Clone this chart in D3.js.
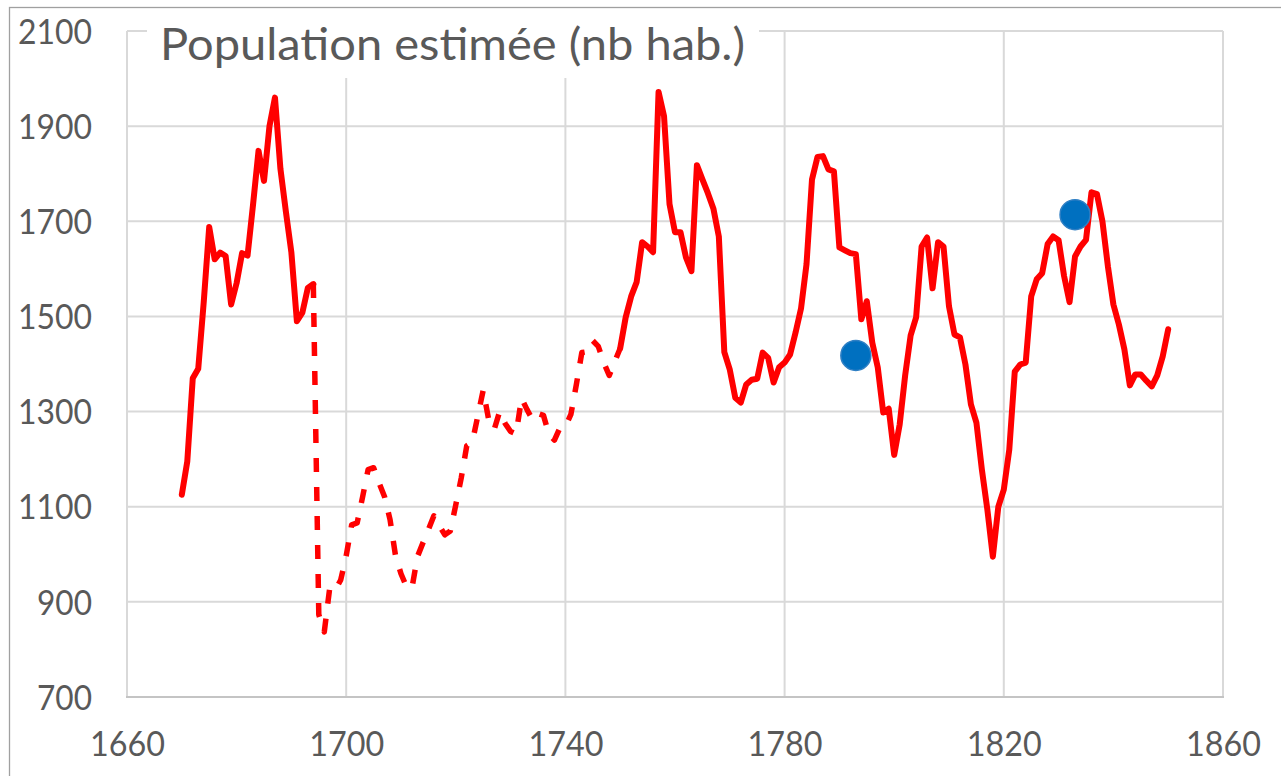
<!DOCTYPE html>
<html>
<head>
<meta charset="utf-8">
<script src="https://cdn.jsdelivr.net/npm/d3@7"></script>
<style>
  html, body { margin: 0; padding: 0; background: #fff; }
  svg { display: block; }
</style>
</head>
<body>
<svg id="chart" width="1281" height="776"></svg>
<script>
// ---- data ----
const title = "Population estimée (nb hab.)";
const firstYear = 1670;
const dashedStart = 1694;
const dashedEnd = 1750;
const population = [
  1125, 1195, 1370, 1390, 1530, 1688, 1620, 1634, 1627, 1525, // 1670-1679
  1570, 1633, 1628, 1735, 1848, 1785, 1900, 1960, 1810, 1720, // 1680-1689
  1634, 1490, 1508, 1560, 1568, 873, 837, 930, 925, 946,       // 1690-1699
  997, 1062, 1066, 1121, 1178, 1182, 1150, 1121, 1073, 997,    // 1700-1709
  959, 932, 929, 995, 1024, 1052, 1081, 1060, 1041, 1049,      // 1710-1719
  1104, 1161, 1228, 1235, 1290, 1345, 1283, 1262, 1300, 1275,  // 1720-1729
  1258, 1253, 1328, 1304, 1283, 1296, 1292, 1252, 1240, 1266,  // 1730-1739
  1268, 1294, 1357, 1424, 1426, 1449, 1437, 1403, 1376, 1405,  // 1740-1749
  1433, 1498, 1542, 1572, 1656, 1647, 1635, 1972, 1921, 1736,  // 1750-1759
  1677, 1677, 1624, 1595, 1818, 1788, 1759, 1727, 1668, 1425,  // 1760-1769
  1388, 1329, 1319, 1357, 1367, 1369, 1424, 1413, 1361, 1393,  // 1770-1779
  1403, 1420, 1466, 1517, 1610, 1788, 1835, 1837, 1809, 1805,  // 1780-1789
  1645, 1639, 1633, 1631, 1494, 1532, 1445, 1393, 1298, 1306,  // 1790-1799
  1209, 1273, 1376, 1460, 1498, 1647, 1666, 1559, 1656, 1647,  // 1800-1809
  1521, 1462, 1456, 1399, 1315, 1277, 1178, 1094, 995, 1100,   // 1810-1819
  1136, 1220, 1384, 1399, 1403, 1542, 1578, 1591, 1652, 1668,  // 1820-1829
  1660, 1585, 1530, 1626, 1647, 1661, 1761, 1757, 1700, 1605,  // 1830-1839
  1525, 1483, 1431, 1355, 1378, 1378, 1365, 1353, 1376, 1416,  // 1840-1849
  1473                                                         // 1850
];
const dotYears = [1793, 1833];
const dotValues = [1418, 1714];
const xTicks = [1660, 1700, 1740, 1780, 1820, 1860];
const yTicks = [700, 900, 1100, 1300, 1500, 1700, 1900, 2100];

// ---- chart ----
const svg = d3.select("#chart");
const x = d3.scaleLinear().domain([1660, 1860]).range([127, 1223]);
const y = d3.scaleLinear().domain([700, 2100]).range([697, 31]);

const points = population.map((v, i) => ({ year: firstYear + i, value: v }));
const seg1 = points.filter(d => d.year <= dashedStart);
const seg2 = points.filter(d => d.year >= dashedStart && d.year <= dashedEnd);
const seg3 = points.filter(d => d.year >= dashedEnd);

svg.append("rect").attr("width", 1281).attr("height", 776).attr("fill", "#fff");
// outer chart border
svg.append("rect").attr("x", 9.5).attr("y", 7.5).attr("width", 1400).attr("height", 1000)
  .attr("fill", "none").attr("stroke", "#a0a0a0").attr("stroke-width", 1.3);

// gridlines
const grid = svg.append("g");
grid.selectAll("line.h").data(yTicks.filter(t => t !== 700)).enter().append("line")
  .attr("x1", x(1660)).attr("x2", x(1860)).attr("y1", d => y(d)).attr("y2", d => y(d))
  .attr("stroke", "#d9d9d9").attr("stroke-width", 2);
grid.selectAll("line.v").data(xTicks).enter().append("line")
  .attr("x1", d => x(d)).attr("x2", d => x(d)).attr("y1", y(2100)).attr("y2", y(700))
  .attr("stroke", "#d9d9d9").attr("stroke-width", 2);
// bottom axis line
svg.append("line").attr("x1", x(1660) - 1).attr("x2", x(1860) + 1).attr("y1", y(700)).attr("y2", y(700))
  .attr("stroke", "#c4c4c4").attr("stroke-width", 2);

// axes labels via d3 axes
const fontFam = "Lato, 'Open Sans', sans-serif";
const yAxis = svg.append("g").attr("transform", `translate(${x(1660) - 35},0)`)
  .call(d3.axisLeft(y).tickValues(yTicks).tickSize(0).tickPadding(0).tickFormat(d3.format("d")));
yAxis.select(".domain").remove();
yAxis.selectAll("text").attr("font-family", fontFam).attr("font-size", 34).attr("fill", "#595959")
  .attr("dy", "0.36em").attr("textLength", 74).attr("lengthAdjust", "spacingAndGlyphs")
  .filter(d => d < 1000).attr("textLength", 55);

const xAxis = svg.append("g").attr("transform", `translate(0,${y(700)})`)
  .call(d3.axisBottom(x).tickValues(xTicks).tickSize(0).tickPadding(0).tickFormat(d3.format("d")));
xAxis.select(".domain").remove();
xAxis.selectAll("text").attr("font-family", fontFam).attr("font-size", 34).attr("fill", "#595959")
  .attr("dy", null).attr("y", 59).attr("textLength", 75).attr("lengthAdjust", "spacingAndGlyphs");

// title box
svg.append("rect").attr("x", 147).attr("y", 12).attr("width", 612).attr("height", 66).attr("fill", "#fff");
svg.append("text").attr("x", 160).attr("y", 60).text(title)
  .attr("font-family", fontFam).attr("font-size", 45).attr("fill", "#595959")
  .attr("textLength", 585).attr("lengthAdjust", "spacingAndGlyphs");

// lines
const line = d3.line().x(d => x(d.year)).y(d => y(d.value));
svg.append("path").datum(seg2).attr("d", line).attr("fill", "none").attr("stroke", "#ff0000")
  .attr("stroke-width", 5.5).attr("stroke-dasharray", "14,15").attr("stroke-linejoin", "round");
[seg1, seg3].forEach(s => {
  svg.append("path").datum(s).attr("d", line).attr("fill", "none").attr("stroke", "#ff0000")
    .attr("stroke-width", 6).attr("stroke-linejoin", "round").attr("stroke-linecap", "round");
});

// dots
svg.selectAll("circle.dot").data(dotYears.map((yr, i) => ({ year: yr, value: dotValues[i] })))
  .enter().append("circle")
  .attr("cx", d => x(d.year)).attr("cy", d => y(d.value)).attr("r", 15)
  .attr("fill", "#0070c0").attr("stroke", "#2f7fc4").attr("stroke-width", 1.5);
</script>
</body>
</html>
